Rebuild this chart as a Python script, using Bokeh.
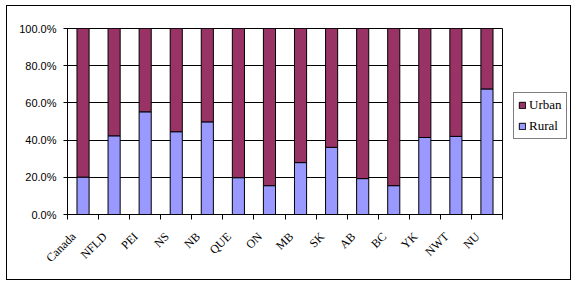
import numpy as np
from bokeh.plotting import figure
from bokeh.layouts import row
from bokeh.models import (FixedTicker, PrintfTickFormatter, Legend, LegendItem,
                          ColumnDataSource, Range1d, InlineStyleSheet)
from bokeh.embed import file_html
from bokeh.resources import INLINE

categories = ["Canada", "NFLD", "PEI", "NS", "NB", "QUE", "ON", "MB", "SK", "AB", "BC", "YK", "NWT", "NU"]
rural = [20.1, 42.3, 55.2, 44.5, 49.8, 19.8, 15.5, 27.9, 36.1, 19.3, 15.5, 41.4, 42.0, 67.5]
urban = [79.9, 57.7, 44.8, 55.5, 50.2, 80.2, 84.5, 72.1, 63.9, 80.7, 84.5, 58.6, 58.0, 32.5]
y_ticks = [0, 20, 40, 60, 80, 100]

URBAN_COLOR = "#993366"
RURAL_COLOR = "#9999FF"

n = len(categories)
xc = [i + 0.5 for i in range(n)]
label_shift = 0.3  # rotated labels end slightly left of bar centre
xl = [x - label_shift for x in xc]
src = ColumnDataSource(dict(x=xc, rural=rural, urban=urban,
                            top=[r + u for r, u in zip(rural, urban)]))

p = figure(width=512, height=284, output_backend="svg", toolbar_location=None,
           x_range=Range1d(0, n), y_range=Range1d(0, 100),
           min_border_left=67, min_border_top=28, min_border_right=10, min_border_bottom=70)

bw = 0.39
r_rural = p.vbar(x="x", bottom=0, top="rural", width=bw, source=src,
                 fill_color=RURAL_COLOR, line_color="black", line_width=1)
r_urban = p.vbar(x="x", bottom="rural", top="top", width=bw, source=src,
                 fill_color=URBAN_COLOR, line_color="black", line_width=1)

# axes
p.xaxis.ticker = FixedTicker(ticks=xl, minor_ticks=list(range(n + 1)))
p.xaxis.major_label_overrides = {x: c for x, c in zip(xl, categories)}
p.xaxis.major_tick_out = 0
p.xaxis.major_tick_in = 0
p.xaxis.minor_tick_out = 5
p.xaxis.minor_tick_in = 0
p.xaxis.minor_tick_line_color = "black"
p.xaxis.major_label_orientation = np.pi / 4
p.xaxis.major_label_text_font = "Liberation Serif"
p.xaxis.major_label_text_font_size = "12px"
p.xaxis.major_label_text_color = "black"
p.xaxis.major_label_standoff = 15
p.xaxis.axis_line_color = "black"

p.yaxis.ticker = FixedTicker(ticks=y_ticks)
p.yaxis.formatter = PrintfTickFormatter(format="%.1f%%")
p.yaxis.major_tick_out = 4
p.yaxis.major_tick_in = 0
p.yaxis.minor_tick_line_color = None
p.yaxis.major_label_text_font = "Liberation Sans"
p.yaxis.major_label_text_font_size = "11px"
p.yaxis.major_label_text_color = "black"
p.yaxis.major_label_standoff = 7
p.yaxis.axis_line_color = "black"

p.xgrid.grid_line_color = None
p.ygrid.ticker = FixedTicker(ticks=y_ticks)
p.ygrid.grid_line_color = "black"
p.ygrid.grid_line_alpha = 1.0

p.outline_line_color = "black"
p.outline_line_alpha = 1.0

# legend panel (separate small figure to the right; its frame aligns with p's frame)
p2 = figure(width=64, height=284, output_backend="svg", toolbar_location=None,
            x_range=Range1d(0, 1), y_range=Range1d(0, 1),
            min_border_left=0, min_border_right=0, min_border_top=0, min_border_bottom=0)
p2.axis.visible = False
p2.grid.grid_line_color = None
p2.outline_line_color = None
lr_urban = p2.vbar(x=[-5], top=[-5], width=0.1, fill_color=URBAN_COLOR, line_color="black",
                   visible=False)
lr_rural = p2.vbar(x=[-5], top=[-5], width=0.1, fill_color=RURAL_COLOR, line_color="black",
                   visible=False)

legend = Legend(items=[LegendItem(label="Urban", renderers=[lr_urban]),
                       LegendItem(label="Rural", renderers=[lr_rural])],
                location=(1, 75), padding=4, spacing=5, margin=0,
                glyph_width=8, glyph_height=8, label_standoff=3,
                label_text_font="Liberation Serif", label_text_font_size="13px",
                label_text_color="black",
                border_line_color="black", border_line_width=1,
                background_fill_alpha=1.0)
p2.add_layout(legend)

layout = row(p, p2, spacing=0)
layout.stylesheets = [InlineStyleSheet(css=(
    ":host { position: relative; } "
    ":host::after { content: ''; position: absolute; left: 6px; top: 5px; "
    "width: 565px; height: 275px; border: 1px solid black; box-sizing: border-box; "
    "pointer-events: none; z-index: 10; }"))]

open("out.html", "w").write(file_html(layout, INLINE))
